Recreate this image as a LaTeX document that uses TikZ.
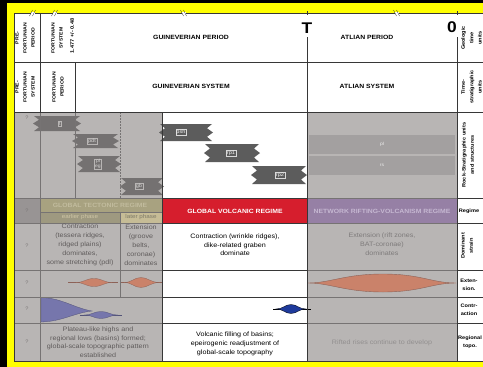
\documentclass[tikz,border=0pt]{standalone}
\usepackage{fontspec}
\setmainfont{Liberation Sans}[FakeStretch=1.12]
\definecolor{frameyellow}{RGB}{255,255,0}
\definecolor{gbg}{RGB}{184,181,180}
\definecolor{gdark}{RGB}{152,148,148}
\definecolor{gline}{RGB}{118,115,115}
\definecolor{dline}{RGB}{55,55,55}
\definecolor{unitG}{RGB}{116,113,113}
\definecolor{unitW}{RGB}{92,92,92}
\definecolor{bandA}{RGB}{163,160,160}
\definecolor{olive}{RGB}{168,162,128}
\definecolor{olivetwo}{RGB}{158,153,128}
\definecolor{olivethree}{RGB}{198,188,150}
\definecolor{volred}{RGB}{214,30,45}
\definecolor{netpurple}{RGB}{150,128,165}
\definecolor{purpletxt}{RGB}{198,184,210}
\definecolor{olivetxt}{RGB}{194,188,158}
\definecolor{ltxt}{RGB}{96,92,92}
\definecolor{atxt}{RGB}{126,123,123}
\definecolor{atxttwo}{RGB}{146,143,143}
\definecolor{lensO}{RGB}{202,130,106}
\definecolor{lensOline}{RGB}{140,98,88}
\definecolor{lensB}{RGB}{118,118,172}
\definecolor{lensBdark}{RGB}{30,58,155}
\definecolor{qcol}{RGB}{122,118,118}
\newcommand{\rockband}[5]{%
  \fill[#5] ({#1},{#3}) -- ({#2},{#3}) -- ({#2-5},{#3+(#4-#3)*0.25}) -- ({#2+1},{#3+(#4-#3)*0.5})
   -- ({#2-5},{#3+(#4-#3)*0.75}) -- ({#2},{#4}) -- ({#1},{#4}) -- ({#1+5},{#4-(#4-#3)*0.25})
   -- ({#1-1},{#3+(#4-#3)*0.5}) -- ({#1+5},{#3+(#4-#3)*0.25}) -- cycle;}
\tikzset{
  hdr/.style={font=\bfseries\fontsize{6.1}{7}\selectfont, inner sep=0pt},
  bigT/.style={font=\bfseries\fontsize{15.5}{16}\selectfont, inner sep=0pt},
  body/.style={font=\fontsize{6.4}{9}\selectfont, align=center, inner sep=0pt},
  bodyb/.style={font=\fontsize{6.4}{8.5}\selectfont, align=center, inner sep=0pt},
  vlab/.style={font=\bfseries\fontsize{4.6}{8}\selectfont, align=center, rotate=90, inner sep=0pt},
  vnum/.style={font=\bfseries\fontsize{5}{6}\selectfont, rotate=90, inner sep=0pt},
  rvl/.style={font=\bfseries\fontsize{5}{8.3}\selectfont, align=center, rotate=90, inner sep=0pt},
  rhl/.style={font=\bfseries\fontsize{5}{8.5}\selectfont, align=center, inner sep=0pt},
  qm/.style={font=\fontsize{5}{6}\selectfont, text=qcol, inner sep=0pt},
  regt/.style={font=\bfseries\fontsize{6.1}{7}\selectfont, inner sep=0pt},
  phase/.style={font=\fontsize{5.6}{6.5}\selectfont, inner sep=0pt},
  ulabG/.style={font=\fontsize{5}{5.5}\selectfont, align=center, inner sep=0.8pt, draw=gbg, text=gbg!60!white, line width=0.3pt},
  ulabW/.style={font=\fontsize{5}{5.5}\selectfont, align=center, inner sep=0.8pt, draw=white!70!gray, text=white!90!gray, line width=0.3pt},
  glinest/.style={draw=gline, line width=0.5pt},
  dlinest/.style={draw=dline, line width=0.6pt},
}
\begin{document}
\begin{tikzpicture}[x=1pt,y=-1pt]
\useasboundingbox (0,0) rectangle (483,367);
\clip (0,0) rectangle (483,367);
% frame
\fill[black] (0,0) rectangle (483,367);
\fill[frameyellow] (7,3) rectangle (483,367);
\fill[white] (14,13) rectangle (483,361);
% grey regions
\fill[gbg] (14,112) rectangle (162,361);
\fill[gbg] (307,112) rectangle (457,361);
\fill[gdark] (14,198) rectangle (40,223);
% Atlian bands
\fill[bandA] (309,135) rectangle (455,154);
\fill[bandA] (309,156) rectangle (455,175);
% rock units (grey region)
\rockband{34}{80}{116}{131}{unitG}
\rockband{73}{118}{134}{148}{unitG}
\rockband{78}{120}{156}{172}{unitG}
\rockband{121}{163}{178}{195}{unitG}
% rock units (white region)
\rockband{160}{212}{124}{141}{unitW}
\rockband{205}{259}{144}{162}{unitW}
\rockband{252}{306}{166}{184}{unitW}
% regime row
\fill[olive] (40,198) rectangle (162,212);
\fill[olivetwo] (40,212) rectangle (120,223);
\fill[olivethree] (120,212) rectangle (162,223);
\fill[volred] (162,198) rectangle (307,223);
\fill[netpurple] (307,198) rectangle (457,223);
% extension lenses
\draw[lensOline, line width=0.5pt] (68,282.5) -- (118,282.5);
\fill[lensO, draw=lensOline, line width=0.3pt] (76,282.5) .. controls (84,282.5) and (86,278.5) .. (94,278.5) .. controls (102,278.5) and (104,282.5) .. (112,282.5) .. controls (104,282.5) and (102,286.5) .. (94,286.5) .. controls (86,286.5) and (84,282.5) .. (76,282.5) -- cycle;
\draw[lensOline, line width=0.5pt] (121,282.5) -- (162,282.5);
\fill[lensO, draw=lensOline, line width=0.3pt] (124,282.5) .. controls (132,282.5) and (134,277.5) .. (141,277.5) .. controls (148,277.5) and (150,282.5) .. (160,282.5) .. controls (150,282.5) and (148,287.5) .. (141,287.5) .. controls (134,287.5) and (132,282.5) .. (124,282.5) -- cycle;
\fill[lensO, draw=lensOline, line width=0.4pt] (308,283) .. controls (330,283) and (345,274) .. (383,274) .. controls (421,274) and (432,283) .. (456,283) .. controls (432,283) and (421,292) .. (383,292) .. controls (345,292) and (330,283) .. (308,283) -- cycle;
% contraction lenses
\fill[lensB, draw=lensB!70!black, line width=0.3pt] (41,297.5) .. controls (62,298) and (74,308) .. (92,311) .. controls (74,313) and (62,321.5) .. (41,322) -- cycle;
\draw[lensB!70!black, line width=0.5pt] (80,315) -- (122,315);
\fill[lensB, draw=lensB!70!black, line width=0.3pt] (84,315) .. controls (92,315) and (94,311.5) .. (101,311.5) .. controls (108,311.5) and (110,315) .. (118,315) .. controls (110,315) and (108,318.5) .. (101,318.5) .. controls (94,318.5) and (92,315) .. (84,315) -- cycle;
\draw[black, line width=0.6pt] (273,309) -- (311,309);
\fill[lensBdark, draw=black, line width=0.3pt] (276,309) .. controls (283,309) and (285,304.5) .. (291,304.5) .. controls (297,304.5) and (299,309) .. (306,309) .. controls (299,309) and (297,313.5) .. (291,313.5) .. controls (285,313.5) and (283,309) .. (276,309) -- cycle;
% grey-region lines
\foreach \yy in {198,223,270,297,323} {
  \draw[glinest] (14,\yy) -- (162,\yy);
  \draw[glinest] (307,\yy) -- (457,\yy);
  \draw[dlinest] (162,\yy) -- (307,\yy);
  \draw[dlinest] (457,\yy) -- (483,\yy);
}
\draw[glinest] (40,112) -- (40,361);
\draw[glinest] (75,112) -- (75,198);
\draw[glinest, dash pattern=on 1.5pt off 1.5pt] (120,112) -- (120,198);
\draw[glinest] (120,212) -- (120,297);
\draw[glinest] (40,212) -- (162,212);
% main lines
\draw[dlinest] (14,13) -- (483,13);
\draw[dlinest] (14,62) -- (483,62);
\draw[dlinest] (14,112) -- (483,112);
\draw[dlinest] (14,13) -- (14,361) -- (483,361);
\draw[dlinest] (40,13) -- (40,112);
\draw[dlinest] (75,62) -- (75,112);
\draw[dlinest] (162,112) -- (162,361);
\draw[dlinest] (307,37) -- (307,361);
\draw[dlinest] (457,37) -- (457,361);
\draw[dlinest] (307,11) -- (307,15);
\draw[dlinest] (457,11) -- (457,15);
% break marks on top line
\foreach \bx in {33,55} {
  \fill[white] (\bx-2.5,12) rectangle (\bx+1.5,14);
  \draw[dline, line width=0.4pt] (\bx-3.5,16) -- (\bx-0.5,10);
  \draw[dline, line width=0.4pt] (\bx-0.5,16) -- (\bx+2.5,10);
}
\foreach \bx in {184,397} {
  \fill[white] (\bx-2,12) rectangle (\bx+2,14);
  \draw[dline, line width=0.4pt] (\bx-3.5,10) -- (\bx-0.5,16);
  \draw[dline, line width=0.4pt] (\bx-0.5,10) -- (\bx+2.5,16);
}
% header texts
\node[vlab] (pfp) at (25,38) {PRE-\\FORTUNIAN\\PERIOD};
\node[vlab] (fsy) at (57,38) {FORTUNIAN\\SYSTEM};
\node[vnum] (age) at (72,36) {1.477 +/- 0.48};
\node[vlab] (pfs) at (25,87) {PRE-\\FORTUNIAN\\SYSTEM};
\node[vlab] (fpe) at (58,87) {FORTUNIAN\\PERIOD};
\node[hdr] (gp) at (191,37) {GUINEVERIAN PERIOD};
\node[hdr] (ap) at (367,37) {ATLIAN PERIOD};
\node[hdr] (gsy) at (191,86) {GUINEVERIAN SYSTEM};
\node[hdr] (asy) at (367,86) {ATLIAN SYSTEM};
\node[bigT] (tt) at (307,28) {T};
\node[bigT] (zz) at (452,27) {0};
% right column labels
\node[rvl] (rl1) at (471.5,38) {Geologic\\time\\units};
\node[rvl] (rl2) at (471.5,87) {Time-\\stratigraphic\\units};
\node[rvl] (rl3) at (468,155) {Rock-Stratigraphic units\\and structures};
\node[rhl] (rl4) at (469,211) {Regime};
\node[rvl] (rl5) at (467,246) {Dominant\\strain};
\node[rhl] (rl6) at (469,285) {Exten-\\sion.};
\node[rhl] (rl7) at (469,310) {Contr-\\action};
\node[rhl] (rl8) at (470,342) {Regional\\topo.};
% question marks
\node[qm] (q1) at (27,118) {?};
\node[qm] (q2) at (27,211) {?};
\node[qm] (q3) at (27,246) {?};
\node[qm] (q4) at (27,283) {?};
\node[qm] (q5) at (27,309) {?};
\node[qm] (q6) at (27,342) {?};
% rock unit labels
\node[ulabG] (ut) at (60,123.5) {t};
\node[ulabG] (updt) at (92,141) {pdt};
\node[ulabG, font=\fontsize{4.5}{4.8}\selectfont] (upl) at (98,164) {pl\\eg};
\node[ulabG] (ugb) at (139,186.5) {gb};
\node[ulabW] (upsh) at (181,132.5) {psh};
\node[ulabW] (urp1) at (231,153) {rp1};
\node[ulabW] (urp2) at (280,175) {rp2};
\node[font=\fontsize{4.5}{5}\selectfont, text=white!85!gray, inner sep=0pt] (apl) at (382,144.5) {pl};
\node[font=\fontsize{4.5}{5}\selectfont, text=white!85!gray, inner sep=0pt] (ars) at (382,165.5) {rs};
% regime texts
\node[regt, text=olivetxt] (gtr) at (100,205) {GLOBAL TECTONIC REGIME};
\node[phase, text=olivethree!85!white] (eph) at (80,217.5) {earlier phase};
\node[phase, text=olivetwo!80!black] (lph) at (141,217.5) {later phase};
\node[regt, text=white] (gvr) at (235,211) {GLOBAL VOLCANIC REGIME};
\node[regt, text=purpletxt] (nrv) at (382,211) {NETWORK RIFTING-VOLCANISM REGIME};
% dominant strain
\node[body, text=ltxt] (st1) at (80,245) {Contraction\\(tessera ridges,\\ridged plains)\\dominates,\\some stretching (pdl)};
\node[body, text=ltxt] (st2) at (141,245) {Extension\\(groove\\belts,\\coronae)\\dominates};
\node[bodyb, text=black] (st3) at (235,245) {Contraction (wrinkle ridges),\\dike-related graben\\dominate};
\node[body, text=atxt] (st4) at (382,244) {Extension (rift zones,\\BAT-coronae)\\dominates};
% regional topography
\node[bodyb, text=ltxt] (tp1) at (98,342) {Plateau-like highs and\\regional lows (basins) formed;\\global-scale topographic pattern\\established};
\node[body, text=black] (tp2) at (235,344) {Volcanic filling of basins;\\epeirogenic readjustment of\\global-scale topography};
\node[body, text=atxttwo] (tp3) at (382,343) {Rifted rises continue to develop};
\end{tikzpicture}
\end{document}
